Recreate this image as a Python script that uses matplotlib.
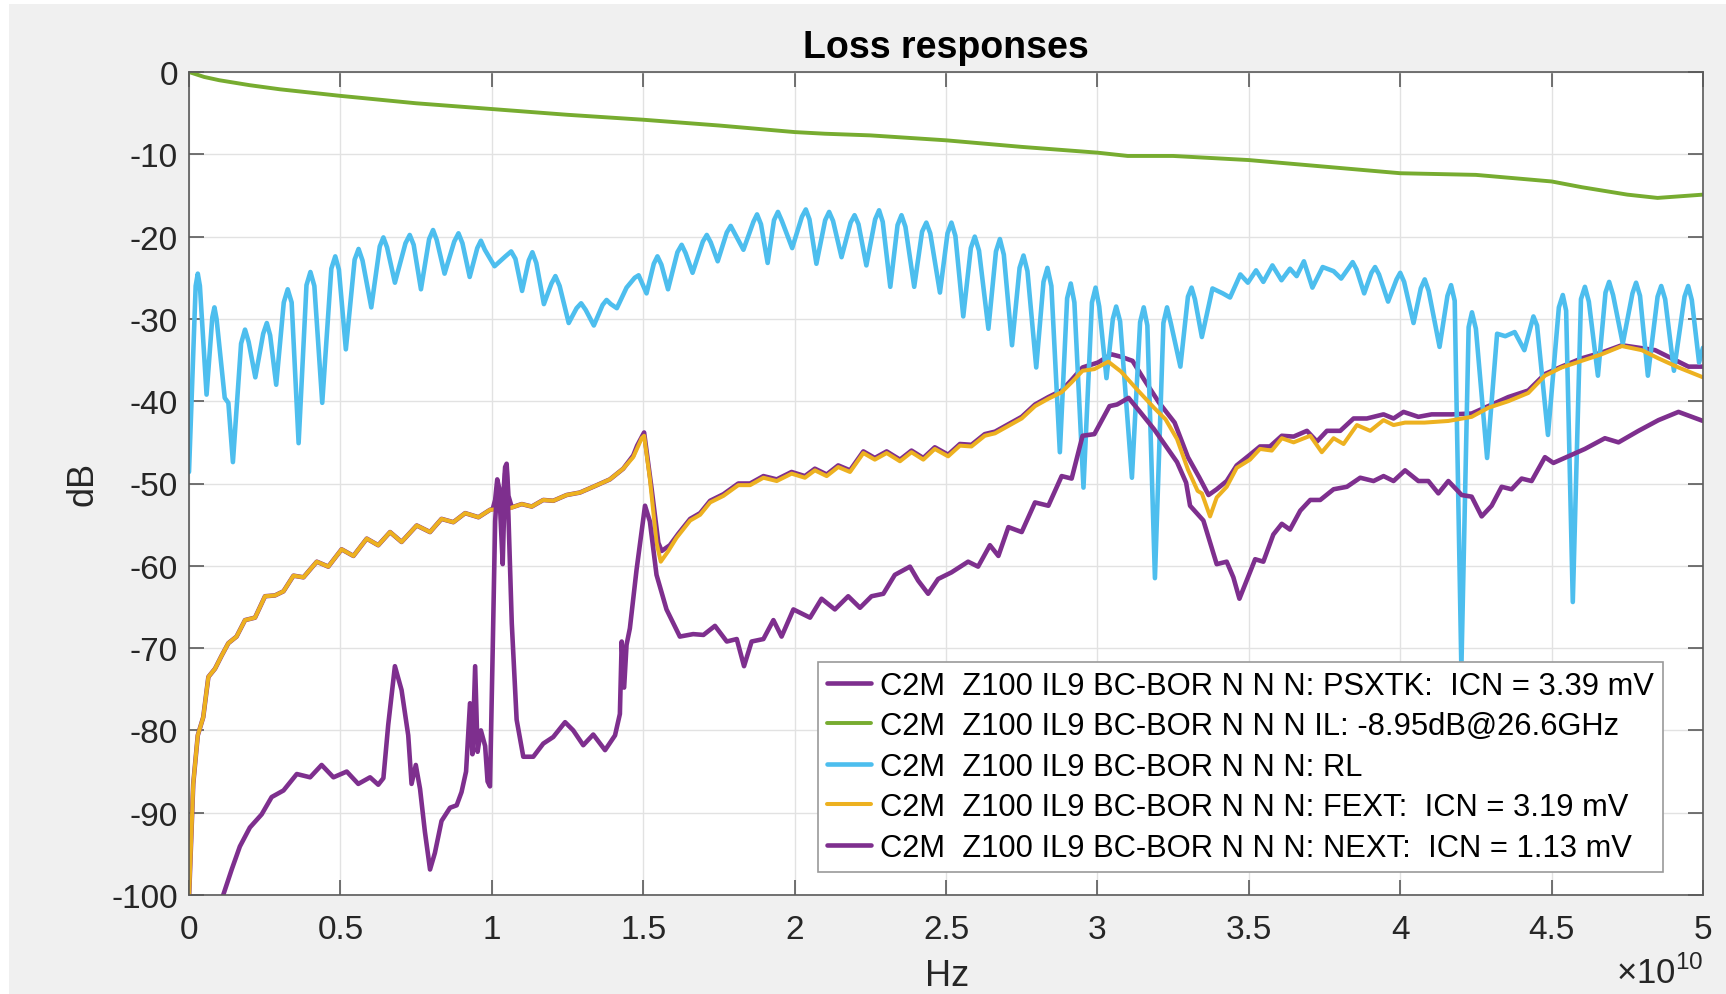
import numpy as np
import matplotlib
matplotlib.use("Agg")
import matplotlib.pyplot as plt
from matplotlib.patches import Rectangle
from matplotlib.ticker import FuncFormatter, MultipleLocator

plt.rcParams['font.family'] = ['Liberation Sans', 'DejaVu Sans']
plt.rcParams['axes.unicode_minus'] = False
plt.rcParams['mathtext.fontset'] = 'custom'
plt.rcParams['mathtext.rm'] = 'Liberation Sans'

# frequency in units of 1e10 Hz, values in dB
il_f = [0.0, 0.05, 0.1, 0.2, 0.3, 0.5, 0.75, 1.0, 1.25, 1.5, 1.75, 2.0, 2.1, 2.25,
        2.5, 2.75, 3.0, 3.1, 3.25, 3.5, 3.75, 4.0, 4.25, 4.5, 4.6, 4.75, 4.85, 5.0]
il_db = [0.0, -0.6, -1.0, -1.6, -2.1, -2.9, -3.8, -4.5, -5.2, -5.8, -6.5, -7.3, -7.5, -7.7,
         -8.3, -9.1, -9.8, -10.2, -10.2, -10.7, -11.5, -12.3, -12.5, -13.3, -14.0, -14.9, -15.3, -14.9]

# return loss: (freq, dB) points, peaks with their shoulders and the nulls between
rl_pts = [
    (0.000, -48.6), (0.022, -26.0), (0.029, -24.5), (0.036, -26.0), (0.058, -39.2),
    (0.077, -29.8), (0.084, -28.6), (0.091, -30.0), (0.118, -39.6), (0.130, -40.2), (0.145, -47.4),
    (0.172, -33.0), (0.185, -31.3), (0.197, -32.8), (0.219, -37.1),
    (0.245, -31.8), (0.257, -30.5), (0.268, -32.0), (0.288, -38.0),
    (0.313, -28.0), (0.326, -26.4), (0.339, -28.0), (0.362, -45.1),
    (0.388, -25.9), (0.401, -24.3), (0.414, -26.0), (0.440, -40.2),
    (0.470, -23.9), (0.483, -22.4), (0.495, -24.0), (0.518, -33.7),
    (0.547, -22.8), (0.560, -21.5), (0.573, -22.9), (0.602, -28.6),
    (0.630, -21.2), (0.642, -20.1), (0.654, -21.3), (0.680, -25.6),
    (0.715, -20.8), (0.729, -19.8), (0.742, -21.0), (0.766, -26.4),
    (0.793, -20.3), (0.806, -19.2), (0.818, -20.4), (0.844, -24.5),
    (0.876, -20.6), (0.890, -19.6), (0.903, -20.8), (0.927, -24.9),
    (0.952, -21.4), (0.964, -20.5), (0.977, -21.6), (1.009, -23.6),
    (1.045, -22.4), (1.064, -21.8), (1.078, -22.7), (1.100, -26.6),
    (1.122, -22.9), (1.134, -21.9), (1.147, -23.2), (1.172, -28.2),
    (1.197, -25.7), (1.210, -24.8), (1.224, -26.0), (1.254, -30.5),
    (1.280, -28.7), (1.295, -28.1), (1.310, -28.9), (1.337, -30.8),
    (1.366, -28.3), (1.379, -27.7), (1.393, -28.2), (1.413, -28.7),
    (1.445, -26.2), (1.472, -25.0), (1.485, -24.7), (1.511, -26.9),
    (1.535, -23.3), (1.547, -22.4), (1.560, -23.4), (1.582, -26.4),
    (1.613, -21.9), (1.627, -21.0), (1.640, -22.0), (1.663, -24.4),
    (1.697, -20.6), (1.710, -19.8), (1.723, -20.7), (1.746, -23.0),
    (1.776, -19.5), (1.789, -18.7), (1.802, -19.6), (1.831, -21.6),
    (1.864, -18.2), (1.876, -17.3), (1.889, -18.5), (1.911, -23.2),
    (1.932, -18.0), (1.945, -17.0), (1.958, -18.1), (1.992, -21.4),
    (2.024, -17.6), (2.037, -16.7), (2.049, -17.9), (2.072, -23.3),
    (2.101, -18.0), (2.114, -17.0), (2.127, -18.1), (2.155, -22.5),
    (2.185, -18.3), (2.198, -17.4), (2.211, -18.5), (2.237, -23.5),
    (2.266, -17.9), (2.279, -16.8), (2.291, -18.2), (2.316, -26.1),
    (2.340, -18.6), (2.353, -17.4), (2.366, -18.8), (2.395, -26.1),
    (2.421, -19.4), (2.435, -18.3), (2.448, -19.6), (2.480, -26.8),
    (2.505, -19.6), (2.518, -18.3), (2.531, -19.9), (2.557, -29.7),
    (2.582, -21.4), (2.595, -20.0), (2.609, -21.7), (2.640, -31.2),
    (2.665, -21.8), (2.678, -20.3), (2.691, -22.2), (2.718, -33.2),
    (2.743, -23.8), (2.756, -22.3), (2.769, -24.2), (2.798, -35.9),
    (2.822, -25.5), (2.835, -23.8), (2.848, -26.0), (2.876, -46.2),
    (2.900, -27.5), (2.912, -25.7), (2.924, -28.0), (2.954, -50.5),
    (2.982, -28.0), (2.994, -26.2), (3.006, -28.5), (3.030, -37.2),
    (3.051, -30.0), (3.062, -28.5), (3.075, -30.3), (3.114, -49.3),
    (3.141, -30.4), (3.153, -28.6), (3.165, -30.8), (3.190, -61.5),
    (3.218, -30.5), (3.230, -28.6), (3.243, -30.6), (3.274, -35.8),
    (3.299, -27.3), (3.311, -26.2), (3.322, -27.6), (3.345, -32.2),
    (3.380, -26.3), (3.414, -26.9), (3.438, -27.4), (3.472, -24.6), (3.497, -25.6),
    (3.524, -24.1), (3.548, -25.5), (3.578, -23.5), (3.608, -25.3), (3.636, -23.9),
    (3.658, -24.8), (3.682, -23.0), (3.710, -26.2), (3.744, -23.7), (3.780, -24.2),
    (3.805, -25.1), (3.830, -23.8), (3.843, -23.1), (3.856, -24.0), (3.881, -26.9),
    (3.905, -24.4), (3.917, -23.7), (3.930, -24.6), (3.960, -27.9),
    (3.988, -25.2), (4.000, -24.4), (4.013, -25.5), (4.044, -30.5),
    (4.068, -26.3), (4.081, -25.2), (4.094, -26.6), (4.130, -33.4),
    (4.156, -27.2), (4.168, -25.9), (4.180, -27.8), (4.202, -72.5),
    (4.226, -31.0), (4.237, -29.2), (4.250, -31.2), (4.287, -46.9),
    (4.320, -31.8), (4.347, -32.1), (4.378, -31.6), (4.410, -33.8),
    (4.440, -29.7), (4.452, -30.8), (4.488, -44.1),
    (4.524, -28.6), (4.537, -27.1), (4.548, -29.0), (4.570, -64.4),
    (4.597, -27.6), (4.610, -26.1), (4.623, -27.9), (4.653, -36.9),
    (4.678, -26.8), (4.690, -25.5), (4.703, -27.1), (4.735, -33.0),
    (4.767, -26.9), (4.779, -25.6), (4.792, -27.2), (4.818, -36.9),
    (4.850, -27.3), (4.862, -26.0), (4.875, -27.6), (4.904, -36.3),
    (4.939, -27.3), (4.951, -26.0), (4.963, -27.7), (4.987, -35.3), (5.000, -33.5),
]
rl_f = [p[0] for p in rl_pts]
rl_db = [p[1] for p in rl_pts]

fext_f = [0.0, 0.014, 0.029, 0.047, 0.064, 0.086, 0.108, 0.130, 0.157, 0.185, 0.218, 0.251,
          0.284, 0.312, 0.345, 0.378, 0.422, 0.460, 0.504, 0.543, 0.587, 0.625, 0.664, 0.702,
          0.752, 0.796, 0.834, 0.873, 0.912, 0.956, 0.994, 1.060, 1.099, 1.132, 1.170, 1.203,
          1.247, 1.291, 1.335, 1.390, 1.434, 1.467, 1.495, 1.503, 1.522, 1.544, 1.558, 1.583,
          1.610, 1.655, 1.688, 1.721, 1.765, 1.814, 1.853, 1.897, 1.941, 1.990, 2.034, 2.067,
          2.106, 2.144, 2.183, 2.227, 2.265, 2.304, 2.348, 2.386, 2.425, 2.463, 2.507, 2.546,
          2.584, 2.628, 2.662, 2.706, 2.750, 2.794, 2.838, 2.882, 2.915, 2.951, 2.990, 3.036,
          3.078, 3.129, 3.187, 3.225, 3.263, 3.299, 3.331, 3.345, 3.372, 3.394, 3.427, 3.460,
          3.504, 3.537, 3.576, 3.609, 3.648, 3.703, 3.741, 3.780, 3.813, 3.857, 3.901, 3.945,
          3.978, 4.016, 4.080, 4.159, 4.236, 4.291, 4.357, 4.423, 4.478, 4.533, 4.599, 4.665,
          4.732, 4.798, 4.853, 4.919, 5.0]
fext_db = [-100.5, -86.5, -80.6, -78.4, -73.5, -72.5, -70.9, -69.4, -68.6, -66.6, -66.3, -63.7,
           -63.6, -63.1, -61.2, -61.4, -59.5, -60.1, -58.0, -58.8, -56.7, -57.5, -55.9, -57.1,
           -55.1, -55.9, -54.3, -54.7, -53.6, -54.1, -53.2, -53.0, -52.5, -52.8, -52.0, -52.1,
           -51.4, -51.1, -50.4, -49.5, -48.2, -46.8, -44.5, -44.2, -49.4, -57.2, -59.5, -58.2,
           -56.6, -54.5, -53.8, -52.3, -51.5, -50.2, -50.2, -49.3, -49.7, -48.8, -49.3, -48.4,
           -49.1, -48.0, -48.6, -46.3, -47.1, -46.3, -47.3, -46.2, -47.1, -45.8, -46.7, -45.4,
           -45.5, -44.2, -43.9, -43.0, -42.1, -40.6, -39.7, -38.9, -37.7, -36.3, -36.1, -35.2,
           -36.4, -38.5, -40.8, -42.2, -44.6, -48.3, -50.9, -51.2, -54.0, -51.7, -50.4, -48.1,
           -47.1, -45.8, -46.0, -44.5, -45.0, -44.2, -46.2, -44.5, -45.2, -42.9, -43.6, -42.3,
           -42.9, -42.6, -42.6, -42.4, -41.9, -40.8, -40.0, -39.0, -36.9, -35.9, -35.1, -34.3,
           -33.3, -33.8, -34.8, -35.9, -37.1]

psxtk_f = [0.0, 0.014, 0.029, 0.047, 0.064, 0.086, 0.108, 0.130, 0.157, 0.185, 0.218, 0.251,
           0.284, 0.312, 0.345, 0.378, 0.422, 0.460, 0.504, 0.543, 0.587, 0.625, 0.664, 0.702,
           0.752, 0.796, 0.834, 0.873, 0.912, 0.956, 0.994, 1.003, 1.011, 1.018, 1.027, 1.036,
           1.044, 1.049, 1.055, 1.066, 1.099, 1.132, 1.170, 1.203, 1.247, 1.291, 1.335, 1.390,
           1.434, 1.467, 1.480, 1.503, 1.528, 1.550, 1.561, 1.588, 1.616, 1.655, 1.688, 1.721,
           1.765, 1.814, 1.853, 1.897, 1.941, 1.990, 2.034, 2.067, 2.106, 2.144, 2.183, 2.227,
           2.265, 2.304, 2.348, 2.386, 2.425, 2.463, 2.507, 2.546, 2.584, 2.628, 2.662, 2.706,
           2.750, 2.794, 2.838, 2.882, 2.915, 2.951, 3.002, 3.046, 3.078, 3.116, 3.153, 3.204,
           3.255, 3.299, 3.337, 3.367, 3.394, 3.427, 3.460, 3.504, 3.537, 3.570, 3.609, 3.648,
           3.692, 3.725, 3.758, 3.802, 3.846, 3.890, 3.945, 3.978, 4.011, 4.060, 4.104, 4.170,
           4.236, 4.291, 4.357, 4.423, 4.478, 4.533, 4.599, 4.665, 4.732, 4.787, 4.842, 4.897,
           4.952, 5.0]
psxtk_db = [-100.5, -86.5, -80.6, -78.4, -73.5, -72.5, -70.9, -69.4, -68.6, -66.6, -66.3, -63.7,
            -63.6, -63.1, -61.2, -61.4, -59.5, -60.1, -58.0, -58.8, -56.7, -57.5, -55.9, -57.1,
            -55.1, -55.9, -54.3, -54.7, -53.6, -54.1, -53.2, -53.1, -52.0, -49.5, -51.0, -52.6,
            -48.0, -47.6, -51.5, -52.9, -52.5, -52.8, -52.0, -52.1, -51.4, -51.1, -50.4, -49.5,
            -48.2, -46.6, -45.4, -43.8, -50.7, -57.2, -58.2, -57.5, -56.1, -54.3, -53.6, -52.1,
            -51.3, -50.0, -50.0, -49.1, -49.5, -48.6, -49.1, -48.2, -48.9, -47.8, -48.4, -46.1,
            -46.9, -46.1, -47.1, -46.0, -46.9, -45.6, -46.5, -45.2, -45.3, -44.0, -43.7, -42.8,
            -41.9, -40.4, -39.5, -38.7, -37.4, -35.9, -35.3, -34.3, -34.6, -35.1, -37.3, -40.2,
            -42.6, -46.8, -49.3, -51.4, -50.7, -49.7, -47.8, -46.5, -45.5, -45.5, -44.2, -44.3,
            -43.6, -44.9, -43.6, -43.6, -42.1, -42.1, -41.6, -42.1, -41.3, -41.9, -41.6, -41.6,
            -41.5, -40.6, -39.5, -38.7, -36.7, -35.8, -34.8, -34.1, -33.2, -33.5, -33.8, -34.8,
            -35.8, -35.8]

next_f = [0.09, 0.113, 0.141, 0.168, 0.201, 0.240, 0.273, 0.312, 0.356, 0.400, 0.438, 0.477,
          0.521, 0.559, 0.598, 0.625, 0.642, 0.658, 0.680, 0.702, 0.724, 0.735, 0.749, 0.763,
          0.779, 0.796, 0.812, 0.834, 0.862, 0.884, 0.900, 0.915, 0.928, 0.936, 0.945, 0.953,
          0.964, 0.978, 0.986, 0.994, 1.003, 1.011, 1.018, 1.027, 1.036, 1.044, 1.049, 1.055,
          1.066, 1.082, 1.104, 1.137, 1.170, 1.203, 1.242, 1.269, 1.302, 1.335, 1.374, 1.407,
          1.423, 1.429, 1.437, 1.445, 1.456, 1.478, 1.506, 1.522, 1.544, 1.577, 1.621, 1.665,
          1.699, 1.737, 1.776, 1.809, 1.833, 1.858, 1.897, 1.930, 1.957, 1.996, 2.051, 2.089,
          2.133, 2.177, 2.216, 2.254, 2.293, 2.331, 2.381, 2.408, 2.441, 2.474, 2.518, 2.573,
          2.606, 2.645, 2.673, 2.706, 2.750, 2.794, 2.838, 2.882, 2.915, 2.951, 2.990, 3.040,
          3.065, 3.103, 3.141, 3.187, 3.229, 3.263, 3.293, 3.306, 3.350, 3.394, 3.427, 3.449,
          3.469, 3.493, 3.521, 3.548, 3.581, 3.609, 3.636, 3.670, 3.703, 3.736, 3.780, 3.824,
          3.868, 3.912, 3.945, 3.978, 4.016, 4.060, 4.093, 4.126, 4.159, 4.203, 4.236, 4.269,
          4.302, 4.335, 4.368, 4.401, 4.434, 4.478, 4.506, 4.555, 4.610, 4.676, 4.721, 4.787,
          4.853, 4.919, 4.963, 5.0]
next_db = [-103.0, -100.0, -96.9, -94.1, -91.8, -90.2, -88.1, -87.3, -85.3, -85.7, -84.2, -85.7,
           -85.0, -86.5, -85.7, -86.6, -85.8, -79.3, -72.2, -75.1, -80.6, -86.5, -84.2, -87.1,
           -92.3, -96.9, -94.9, -91.0, -89.4, -89.1, -87.5, -85.0, -76.7, -82.9, -72.2, -82.6,
           -80.0, -81.9, -86.2, -86.8, -70.2, -54.6, -50.4, -52.7, -59.8, -48.8, -48.1, -54.0,
           -67.0, -78.7, -83.2, -83.2, -81.6, -80.8, -79.0, -80.0, -81.8, -80.5, -82.4, -80.6,
           -78.0, -69.2, -74.8, -69.6, -67.6, -60.5, -52.7, -54.6, -61.1, -65.3, -68.6, -68.3,
           -68.4, -67.3, -69.2, -68.9, -72.2, -69.2, -68.9, -66.6, -68.6, -65.3, -66.3, -64.0,
           -65.3, -63.7, -65.1, -63.7, -63.4, -61.1, -60.1, -61.8, -63.4, -61.6, -60.8, -59.5,
           -60.1, -57.5, -58.8, -55.3, -55.9, -52.3, -52.7, -49.1, -49.4, -44.2, -44.0, -40.6,
           -40.4, -39.6, -41.3, -43.4, -45.6, -47.4, -49.9, -52.7, -54.5, -59.8, -59.5, -61.4,
           -64.0, -61.8, -59.2, -59.5, -56.2, -54.9, -55.6, -53.3, -52.0, -52.0, -50.7, -50.4,
           -49.3, -49.7, -49.1, -49.7, -48.4, -49.7, -49.7, -51.2, -49.7, -51.4, -51.6, -54.0,
           -52.7, -50.4, -50.7, -49.4, -49.7, -46.8, -47.5, -46.7, -45.8, -44.5, -45.0, -43.6,
           -42.3, -41.3, -41.9, -42.4]

labels = ['C2M  Z100 IL9 BC-BOR N N N: PSXTK:  ICN = 3.39 mV',
          'C2M  Z100 IL9 BC-BOR N N N IL: -8.95dB@26.6GHz',
          'C2M  Z100 IL9 BC-BOR N N N: RL',
          'C2M  Z100 IL9 BC-BOR N N N: FEXT:  ICN = 3.19 mV',
          'C2M  Z100 IL9 BC-BOR N N N: NEXT:  ICN = 1.13 mV']

purple = '#7E2F8E'
green = '#77AC30'
blue = '#4DBEEE'
orange = '#EDB120'

fig = plt.figure(figsize=(17.26, 9.95), dpi=100)
fig.patch.set_facecolor('white')
# grey MATLAB figure background, thin white strip left/top as in the screenshot
fig.patches.append(Rectangle((9 / 1726, 0), 1, 1 - 5 / 995, transform=fig.transFigure,
                             facecolor='#f0f0f0', edgecolor='none', zorder=-10))

ax = fig.add_axes([189 / 1726, 1 - 896 / 995, (1703 - 189) / 1726, (896 - 73) / 995])
ax.set_facecolor('white')

scale = 1e10
kw = dict(solid_joinstyle='round', solid_capstyle='round')
ax.plot(np.array(psxtk_f) * scale, psxtk_db, color=purple, lw=3.3, label=labels[0], **kw)
ax.plot(np.array(il_f) * scale, il_db, color=green, lw=2.8, label=labels[1], **kw)
ax.plot(np.array(rl_f) * scale, rl_db, color=blue, lw=3.3, label=labels[2], **kw)
ax.plot(np.array(fext_f) * scale, fext_db, color=orange, lw=2.9, label=labels[3], **kw)
ax.plot(np.array(next_f) * scale, next_db, color=purple, lw=3.3, label=labels[4], **kw)

ax.set_xlim(0, 5e10)
ax.set_ylim(-100, 0)
ax.xaxis.set_major_locator(MultipleLocator(0.5e10))
ax.yaxis.set_major_locator(MultipleLocator(10))
ax.xaxis.set_major_formatter(FuncFormatter(lambda v, p: '%g' % (v / scale)))
ax.yaxis.set_major_formatter(FuncFormatter(lambda v, p: '%d' % v))

ax.grid(True, color='#e2e2e2', lw=1.0)
ax.set_axisbelow(True)
for s in ax.spines.values():
    s.set_color('#5a5a5a')
    s.set_linewidth(1.2)
ax.tick_params(direction='in', length=11, width=1.2, color='#5a5a5a',
               labelsize=24, labelcolor='#262626', top=True, right=True)
ax.tick_params(axis='y', pad=8)
ax.tick_params(axis='x', pad=14)

fig.text(946 / 1726, 1 - 58 / 995, 'Loss responses', ha='center', va='baseline',
         fontsize=27, fontweight='bold', color='black')
fig.text(947 / 1726, 1 - 977 / 995, 'Hz', ha='center', va='center', fontsize=26, color='#262626')
fig.text(83 / 1726, 1 - 484 / 995, 'dB', ha='center', va='center', rotation=90,
         fontsize=26, color='#262626')
fig.text(1703 / 1726, 1 - 973 / 995, r'$\times10^{10}$', ha='right', va='center',
         fontsize=25, color='#262626')

leg = ax.legend(loc='lower right', bbox_to_anchor=(0.9736, 0.028), borderaxespad=0,
                fontsize=22.2, handlelength=1.4, handletextpad=0.3, labelspacing=0.34,
                borderpad=0.3, fancybox=False, framealpha=1, edgecolor='#9a9a9a')
leg.get_frame().set_linewidth(1.2)

fig.savefig('out.png', dpi=100, facecolor=fig.get_facecolor())
